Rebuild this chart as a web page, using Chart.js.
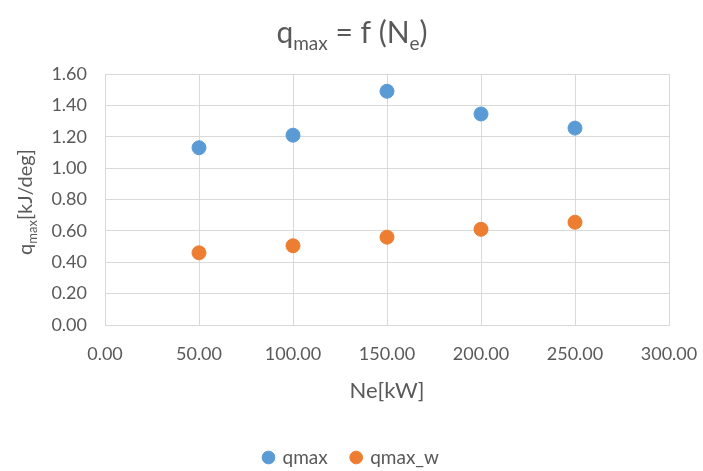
<!DOCTYPE html>
<html>
<head>
<meta charset="utf-8">
<script src="https://cdn.jsdelivr.net/npm/chart.js@4"></script>
<style>
  html, body { margin: 0; padding: 0; background: #fff; }
  #wrap { width: 703px; height: 471px; }
</style>
</head>
<body>
<div id="wrap"><canvas id="mainChart"></canvas></div>
<script>
const ctx = document.getElementById('mainChart');

// data
const neValues = [50, 100, 150, 200, 250];
const qmaxValues = [1.13, 1.21, 1.49, 1.345, 1.255];
const qmaxWValues = [0.46, 0.505, 0.56, 0.61, 0.655];
const seriesNames = ['qmax', 'qmax_w'];

const textColor = '#595959';
const gridColor = '#d9d9d9';
const fontFamily = 'Lato, "Open Sans", sans-serif';

function toPoints(xs, ys) {
    return xs.map((x, i) => ({ x: x, y: ys[i] }));
}

// draws pieces of text with subscripts, starting at x
function drawParts(c, parts, x, y) {
    parts.forEach(p => {
        c.font = p.size + 'px ' + fontFamily;
        c.fillText(p.t, x, y + (p.sub ? p.size * 0.35 : 0));
        x += c.measureText(p.t).width;
    });
}
function partsWidth(c, parts) {
    let w = 0;
    parts.forEach(p => {
        c.font = p.size + 'px ' + fontFamily;
        w += c.measureText(p.t).width;
    });
    return w;
}

const titles = {
    id: 'titles',
    afterDraw(chart) {
        const c = chart.ctx;
        c.save();
        c.fillStyle = textColor;
        c.textBaseline = 'alphabetic';
        c.textAlign = 'left';
        const title = [
            { t: 'q', size: 30 }, { t: 'max', size: 19, sub: true },
            { t: ' = f (N', size: 30 }, { t: 'e', size: 19, sub: true }, { t: ')', size: 30 }
        ];
        const tw = partsWidth(c, title);
        drawParts(c, title, 352 - tw / 2, 43);

        const ytitle = [
            { t: 'q', size: 20 }, { t: 'max', size: 13, sub: true }, { t: '[kJ/deg]', size: 20 }
        ];
        const yw = partsWidth(c, ytitle);
        c.translate(32, 202);
        c.rotate(-Math.PI / 2);
        drawParts(c, ytitle, -yw / 2, 0);
        c.restore();
    }
};

new Chart(ctx, {
    type: 'scatter',
    data: {
        datasets: [
            {
                label: seriesNames[0],
                data: toPoints(neValues, qmaxValues),
                backgroundColor: '#5b9bd5',
                borderColor: '#5b9bd5',
                pointRadius: 7,
                pointHoverRadius: 7
            },
            {
                label: seriesNames[1],
                data: toPoints(neValues, qmaxWValues),
                backgroundColor: '#ed7d31',
                borderColor: '#ed7d31',
                pointRadius: 7,
                pointHoverRadius: 7
            }
        ]
    },
    options: {
        responsive: true,
        maintainAspectRatio: false,
        animation: false,
        layout: { padding: { top: 74, right: 0, bottom: -6, left: 0 } },
        plugins: {
            title: { display: false },
            tooltip: { enabled: false },
            legend: {
                position: 'bottom',
                labels: {
                    usePointStyle: true,
                    pointStyle: 'circle',
                    boxWidth: 9,
                    boxHeight: 9,
                    padding: 24,
                    color: textColor,
                    font: { family: fontFamily, size: 19 }
                }
            }
        },
        scales: {
            x: {
                type: 'linear',
                min: 0,
                max: 300,
                ticks: {
                    stepSize: 50,
                    padding: 18,
                    color: textColor,
                    font: { family: fontFamily, size: 18 },
                    callback: v => v.toFixed(2)
                },
                grid: { color: gridColor, drawTicks: false },
                border: { color: gridColor },
                title: {
                    display: true,
                    text: 'Ne[kW]',
                    color: textColor,
                    font: { family: fontFamily, size: 22 },
                    padding: { top: 10, bottom: 20 }
                },
                afterFit(scale) {
                    scale.height = 99;
                    scale.paddingRight = 34;
                    scale.paddingLeft = 0;
                }
            },
            y: {
                min: 0,
                max: 1.6,
                ticks: {
                    stepSize: 0.2,
                    padding: 18,
                    color: textColor,
                    font: { family: fontFamily, size: 18 },
                    callback: v => v.toFixed(2)
                },
                grid: { color: gridColor, drawTicks: false },
                border: { color: gridColor },
                afterFit(scale) {
                    scale.width = 105;
                    scale.paddingTop = 0;
                    scale.paddingBottom = 0;
                }
            }
        }
    },
    plugins: [titles]
});
</script>
</body>
</html>
